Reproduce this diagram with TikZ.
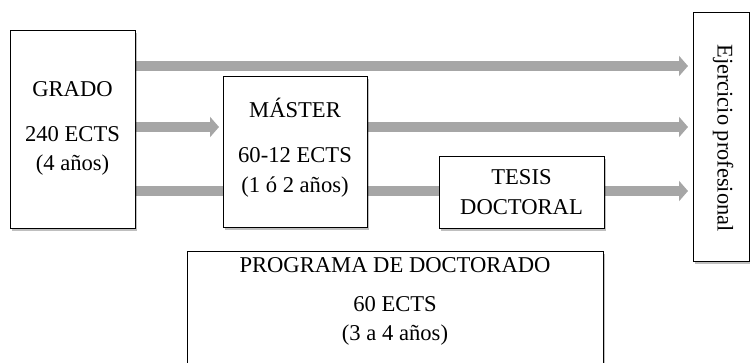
\documentclass[tikz,border=0pt]{standalone}
\usepackage{fontspec}
\setmainfont{Liberation Serif}
\usetikzlibrary{arrows.meta,shadows,backgrounds}
\definecolor{bargray}{RGB}{166,166,166}
\tikzset{
  box/.style={draw=black, line width=1pt, fill=white, inner sep=0pt, outer sep=0pt,
    drop shadow={shadow xshift=2pt, shadow yshift=-2pt, fill=black, opacity=0.25}},
  txt/.style={anchor=base, inner sep=0pt, font=\fontsize{22.6}{26}\selectfont},
  bar/.style={draw=bargray, line width=10pt},
  bararrow/.style={bar, -{Triangle[length=9pt,width=20pt]}}
}
\begin{document}
\begin{tikzpicture}[x=1pt,y=-1pt]
\useasboundingbox (0,0) rectangle (750,363);
% boxes
\node[box, minimum width=125pt, minimum height=198pt] (grado) at (72.5,130) {};
\node[box, minimum width=144pt, minimum height=151pt] (master) at (295,152.5) {};
\node[box, minimum width=165pt, minimum height=72pt] (tesis) at (521.5,193) {};
\node[box, minimum width=56pt, minimum height=249pt] (ejer) at (721,137.5) {};
\node[box, minimum width=416pt, minimum height=120pt] (prog) at (395,312) {};
% texts
\node[txt] (g1) at (72.5,97) {GRADO};
\node[txt] (g2) at (72.5,142) {240 ECTS};
\node[txt] (g3) at (72.5,171) {(4 años)};
\node[txt] (m1) at (295,118) {MÁSTER};
\node[txt] (m2) at (295,163) {60-12 ECTS};
\node[txt] (m3) at (295,193) {(1 ó 2 años)};
\node[txt] (t1) at (521.5,185) {TESIS};
\node[txt] (t2) at (521.5,215) {DOCTORAL};
\node[txt] (p1) at (395,273) {PROGRAMA DE DOCTORADO};
\node[txt] (p2) at (395,312) {60 ECTS};
\node[txt] (p3) at (395,341) {(3 a 4 años)};
\node[inner sep=0pt, font=\fontsize{22.4}{26}\selectfont, rotate=-90] (ej) at (723,138) {Ejercicio profesional};
% connectors
\begin{pgfonlayer}{background}
\draw[bararrow, shorten >=5pt] (grado.east |- 0,66) -- (ejer.west |- 0,66);
\draw[bararrow, shorten >=4pt] (grado.east |- 0,127) -- (master.west |- 0,127);
\draw[bararrow, shorten >=5pt] (master.east |- 0,127) -- (ejer.west |- 0,127);
\draw[bar] (grado.east |- 0,191) -- (tesis.west |- 0,191);
\draw[bararrow, shorten >=5pt] (tesis.east |- 0,191) -- (ejer.west |- 0,191);
\end{pgfonlayer}
\end{tikzpicture}
\end{document}
